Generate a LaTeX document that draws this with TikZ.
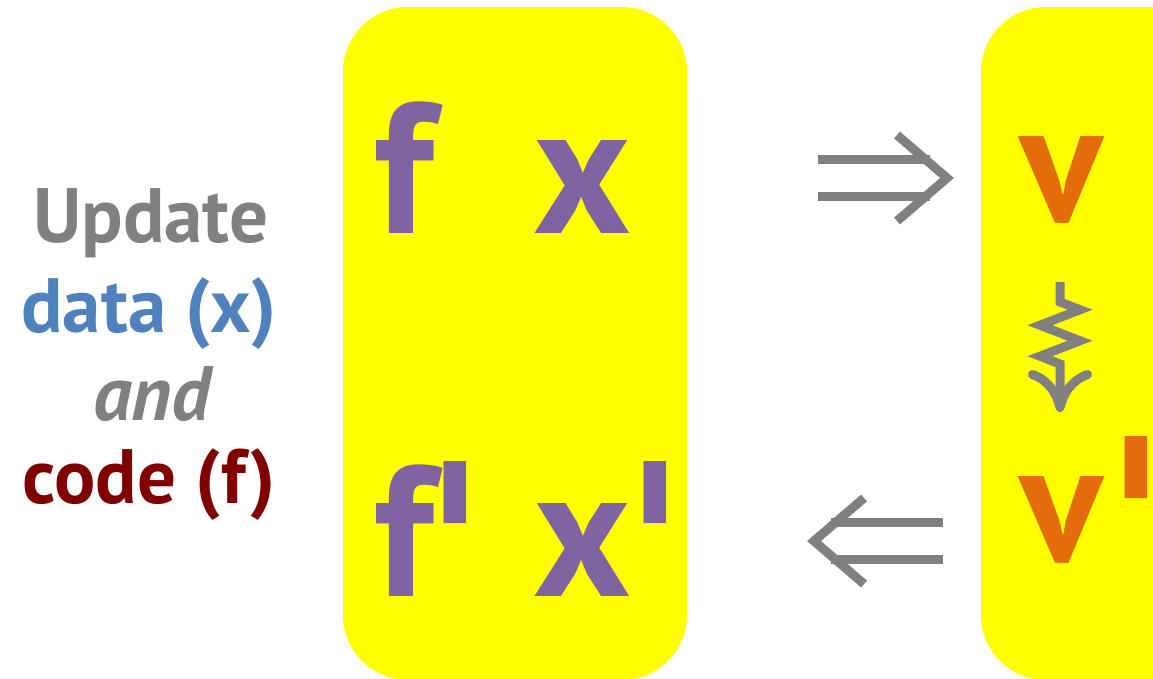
\documentclass[tikz,border=0pt]{standalone}
\usepackage{fontspec}
\setmainfont{PT Sans}
\newfontfamily\primefont{DejaVu Sans}[Ligatures=TeXOff]
\usetikzlibrary{arrows.meta,decorations.pathmorphing}

\definecolor{panelyellow}{HTML}{FFFF00}
\definecolor{symbolpurple}{HTML}{8064A2}
\definecolor{valueorange}{HTML}{E46C0A}
\definecolor{datablue}{HTML}{4F81BD}
\definecolor{codered}{HTML}{800000}
\definecolor{arrowgray}{HTML}{808080}

% prime mark whose box is trimmed to the visible bar
\newcommand{\barprime}{\makebox[0.085em][c]{\raisebox{-0.445em}[0.284em][0pt]{\scalebox{0.85}[1]{\char39}}}}

\tikzset{
  panel/.style={fill=panelyellow, rounded corners=65pt, inner sep=0pt},
  caption/.style={anchor=base, inner sep=0pt, font=\fontsize{77}{88}\selectfont\bfseries},
  symb/.style={anchor=base, inner sep=0pt, text=symbolpurple, font=\fontsize{186}{186}\selectfont\bfseries},
  valsymb/.style={anchor=base, inner sep=0pt, text=valueorange, font=\fontsize{172}{172}\selectfont\bfseries},
  primemark/.style={anchor=north, inner sep=0pt, font=\fontsize{229}{229}\primefont\bfseries},
  arrowline/.style={draw=arrowgray, line width=9pt},
  implies/.pic={
    \draw[arrowline] (-136,-18.5) -- (-24,-18.5);
    \draw[arrowline] (-136,18.5) -- (-24,18.5);
    \draw[arrowline, line join=miter] (-57,-43) -- (-7,0) -- (-57,43);
  },
  squig/.style={draw=arrowgray, line width=9pt, decorate,
    decoration={zigzag, segment length=31pt, amplitude=20pt, pre length=20pt, post length=45pt},
    -{Computer Modern Rightarrow[length=42pt, width=64pt]}}
}

\begin{document}
\begin{tikzpicture}[x=1pt, y=-1pt]
  \useasboundingbox (0,0) rectangle (1153,678);
  \clip (0,0) rectangle (1153,678);

  % yellow panels
  \node[panel, minimum width=344pt, minimum height=673pt] (lpanel) at (515,343.5) {};
  \node[panel, minimum width=234pt, minimum height=673pt] (rpanel) at (1098,343.5) {};

  % caption on the left
  \node[caption, text=arrowgray] (upd) at (151,242) {Update};
  \node[caption, text=datablue] (dat) at (149,332) {data (x)};
  \node[caption, text=arrowgray] (andw) at (152,420) {\itshape and};
  \node[caption, text=codered] (cod) at (149,503) {code (f)};

  % code and data, before and after
  \node[symb] (f1) at (404,233) {f};
  \node[symb] (x1) at (582,233) {x};
  \node[symb] (f2) at (404,596) {f};
  \node[symb] (x2) at (582,596) {x};
  \node[primemark, text=symbolpurple] (f2p) at (455.5,461) {\barprime};
  \node[primemark, text=symbolpurple] (x2p) at (655.5,461) {\barprime};

  % values
  \node[valsymb] (v1) at (1062,222) {v};
  \node[valsymb] (v2) at (1062,562) {v};
  \node[primemark, text=valueorange] (v2p) at (1136.5,436) {\barprime};

  % evaluation and feedback arrows
  \coordinate (evaltip) at (954,178);
  \coordinate (backtip) at (807,541);
  \pic at (evaltip) {implies};
  \pic[xscale=-1] at (backtip) {implies};

  % value changes
  \coordinate (zs) at (1060,282);
  \coordinate (ze) at (1060,412);
  \draw[squig] (zs) -- (ze);
\end{tikzpicture}
\end{document}
